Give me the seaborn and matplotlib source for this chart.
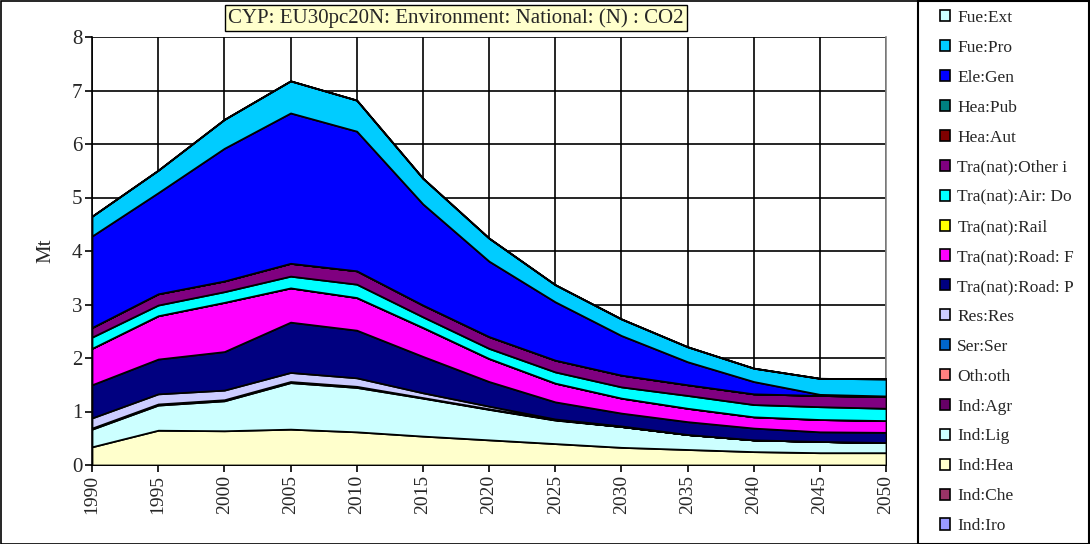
import numpy as np
import pandas as pd
import matplotlib
matplotlib.use("Agg")
import matplotlib.pyplot as plt
from matplotlib.patches import Rectangle
import seaborn as sns

years = [1990, 1995, 2000, 2005, 2010, 2015, 2020, 2025, 2030, 2035, 2040, 2045, 2050]

# stacking order: bottom -> top
ind_iro = [0] * 13
ind_che = [0] * 13
ind_hea = [0.34, 0.65, 0.64, 0.67, 0.62, 0.54, 0.47, 0.40, 0.33, 0.29, 0.25, 0.23, 0.23]
ind_lig = [0.33, 0.47, 0.56, 0.87, 0.83, 0.71, 0.57, 0.44, 0.39, 0.28, 0.22, 0.21, 0.19]
ind_agr = [0.02, 0.02, 0.02, 0.02, 0.02, 0.01, 0.01, 0.01, 0.0, 0.0, 0.0, 0.0, 0.0]
oth_oth = [0] * 13
ser_ser = [0] * 13
res_res = [0.19, 0.19, 0.18, 0.17, 0.16, 0.09, 0.05, 0.01, 0.01, 0.0, 0.0, 0.0, 0.0]
road_p = [0.62, 0.65, 0.72, 0.94, 0.89, 0.68, 0.46, 0.32, 0.24, 0.24, 0.22, 0.18, 0.19]
road_f = [0.68, 0.81, 0.92, 0.64, 0.61, 0.54, 0.43, 0.35, 0.28, 0.25, 0.21, 0.23, 0.22]
rail = [0] * 13
air_do = [0.21, 0.20, 0.20, 0.22, 0.25, 0.20, 0.19, 0.21, 0.21, 0.24, 0.23, 0.24, 0.23]
other_i = [0.18, 0.21, 0.20, 0.24, 0.25, 0.22, 0.22, 0.22, 0.22, 0.20, 0.20, 0.21, 0.22]
hea_aut = [0] * 13
hea_pub = [0] * 13
ele_gen = [1.71, 1.89, 2.48, 2.81, 2.61, 1.89, 1.41, 1.09, 0.74, 0.43, 0.23, 0.02, 0.01]
fue_pro = [0.37, 0.42, 0.54, 0.60, 0.58, 0.48, 0.43, 0.32, 0.31, 0.28, 0.25, 0.30, 0.32]
fue_ext = [0] * 13

series_names = ["Ind:Iro", "Ind:Che", "Ind:Hea", "Ind:Lig", "Ind:Agr", "Oth:oth", "Ser:Ser",
                "Res:Res", "Tra(nat):Road: P", "Tra(nat):Road: F", "Tra(nat):Rail",
                "Tra(nat):Air: Do", "Tra(nat):Other i", "Hea:Aut", "Hea:Pub", "Ele:Gen",
                "Fue:Pro", "Fue:Ext"]
series_vals = [ind_iro, ind_che, ind_hea, ind_lig, ind_agr, oth_oth, ser_ser, res_res,
               road_p, road_f, rail, air_do, other_i, hea_aut, hea_pub, ele_gen, fue_pro, fue_ext]
colors = ["#9999FF", "#993366", "#FFFFCC", "#CCFFFF", "#660066", "#FF8080", "#0066CC",
          "#CCCCFF", "#000080", "#FF00FF", "#FFFF00", "#00FFFF", "#800080", "#800000",
          "#008080", "#0000FF", "#00CCFF", "#CCFFFF"]

df = pd.DataFrame(dict(zip(series_names, series_vals)), index=years)

sns.set_theme(style="white")
plt.rcParams["font.family"] = ["Liberation Serif", "DejaVu Serif"]

fig = plt.figure(figsize=(10.9, 5.44), dpi=100)
fig.patch.set_facecolor("white")
ax = fig.add_axes([92 / 1090, 1 - 465 / 544, (886 - 92) / 1090, (465 - 37) / 544])

polys = ax.stackplot(df.index, [df[c].values for c in series_names], colors=colors,
                     edgecolor="black", linewidth=1.3, labels=series_names, zorder=3)

ax.set_xlim(1990, 2050)
ax.set_ylim(0, 8)
ax.set_xticks(years)
ax.set_xticklabels([str(y) for y in years], rotation=90, fontsize=14)
ax.set_yticks(range(0, 9))
ax.set_yticklabels([str(v) for v in range(0, 9)], fontsize=15)
ax.grid(True, color="black", linewidth=1.2, zorder=0)
ax.set_axisbelow(True)
for s in ax.spines.values():
    s.set_color("black")
    s.set_linewidth(1.2)
ax.spines["top"].set_visible(False)
ax.spines["right"].set_color("#888888")
ax.tick_params(axis="both", direction="out", length=5, width=1.2, color="black", pad=2,
               bottom=True, left=True)
ax.set_ylabel("Mt", fontsize=15, labelpad=12)

# title box
fig.text(456 / 1090, 1 - 18 / 544, "CYP: EU30pc20N: Environment: National: (N) : CO2",
         ha="center", va="center", fontsize=15,
         bbox=dict(boxstyle="square,pad=0.15", facecolor="#FFFFCC", edgecolor="black", linewidth=1))

# legend box and outer border
fig.patches.append(Rectangle((0.5 / 1090, 0.5 / 544), 1088.5 / 1090, 542.5 / 544, transform=fig.transFigure,
                             fill=False, edgecolor="black", linewidth=1.2))
fig.patches.append(Rectangle((918 / 1090, 0.5 / 544), 171 / 1090, 542.5 / 544, transform=fig.transFigure,
                             fill=False, edgecolor="black", linewidth=1.5))

handles = polys[::-1]
labels = series_names[::-1]
leg = fig.legend(handles, labels, loc="upper left", bbox_to_anchor=(940 / 1090, 1 - 10 / 544),
                 frameon=False, fontsize=12.5, handlelength=0.6, handleheight=0.6,
                 handletextpad=0.4, labelspacing=0.80, borderaxespad=0, borderpad=0)
for h in leg.legend_handles:
    h.set_edgecolor("black")
    h.set_linewidth(1.2)

fig.savefig("out.png", dpi=100)
